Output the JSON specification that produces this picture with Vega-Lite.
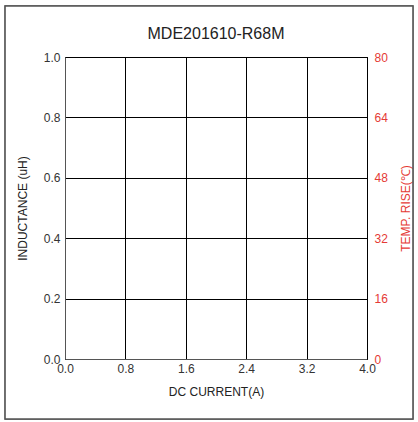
{
  "$schema": "https://vega.github.io/schema/vega-lite/v6.json",
  "width": 302,
  "height": 302,
  "autosize": {"type": "none"},
  "padding": {"left": 65, "top": 57, "right": 51, "bottom": 63},
  "background": "#ffffff",
  "title": {"text": "MDE201610-R68M", "font": "Liberation Sans", "fontSize": 16, "fontWeight": "normal", "color": "#222222", "offset": -37},
  "data": {"values": [
    {"current": 0, "inductance": 0, "temp": 0},
    {"current": 4, "inductance": 1, "temp": 80}
  ]},
  "layer": [
    {
      "layer": [
        {
          "mark": {"type": "point", "opacity": 0},
          "encoding": {
            "x": {"field": "current", "type": "quantitative", "scale": {"domain": [0, 4], "nice": false},
              "axis": {"values": [0, 0.8, 1.6, 2.4, 3.2, 4.0], "format": ".1f", "title": "DC CURRENT(A)", "grid": true, "gridColor": "#000000", "gridOpacity": 1, "tickSize": 0, "labelPadding": 4, "titlePadding": 12, "domainColor": "#555555", "labelFlush": false}},
            "y": {"field": "inductance", "type": "quantitative", "scale": {"domain": [0, 1], "nice": false},
              "axis": {"values": [0, 0.2, 0.4, 0.6, 0.8, 1.0], "format": ".1f", "title": "INDUCTANCE (uH)", "grid": true, "gridColor": "#000000", "gridOpacity": 1, "tickSize": 0, "labelPadding": 5, "titlePadding": 14, "domainColor": "#555555", "labelFlush": false}}
          }
        },
        {
          "mark": {"type": "rect", "filled": false, "stroke": "#555555", "strokeWidth": 1.2, "clip": false},
          "encoding": {
            "x": {"datum": -0.795, "type": "quantitative"},
            "x2": {"datum": 4.61},
            "y": {"datum": -0.199, "type": "quantitative"},
            "y2": {"datum": 1.169}
          }
        }
      ]
    },
    {
      "mark": {"type": "point", "opacity": 0},
      "encoding": {
        "x": {"field": "current", "type": "quantitative"},
        "y": {"field": "temp", "type": "quantitative", "scale": {"domain": [0, 80], "nice": false},
          "axis": {"orient": "right", "values": [0, 16, 32, 48, 64, 80], "title": "TEMP. RISE(℃)", "titleAngle": 270, "grid": false, "tickSize": 0, "labelPadding": 7, "titlePadding": 25, "labelColor": "#e53a35", "titleColor": "#e53a35", "domainColor": "#000000", "labelFlush": false}}
      }
    }
  ],
  "resolve": {"scale": {"y": "independent"}},
  "config": {
    "view": {"stroke": "#000000"},
    "axis": {"labelFont": "Liberation Sans", "labelFontSize": 12, "labelColor": "#333333", "titleFont": "Liberation Sans", "titleFontSize": 12, "titleFontWeight": "normal", "titleColor": "#222222"}
  }
}
